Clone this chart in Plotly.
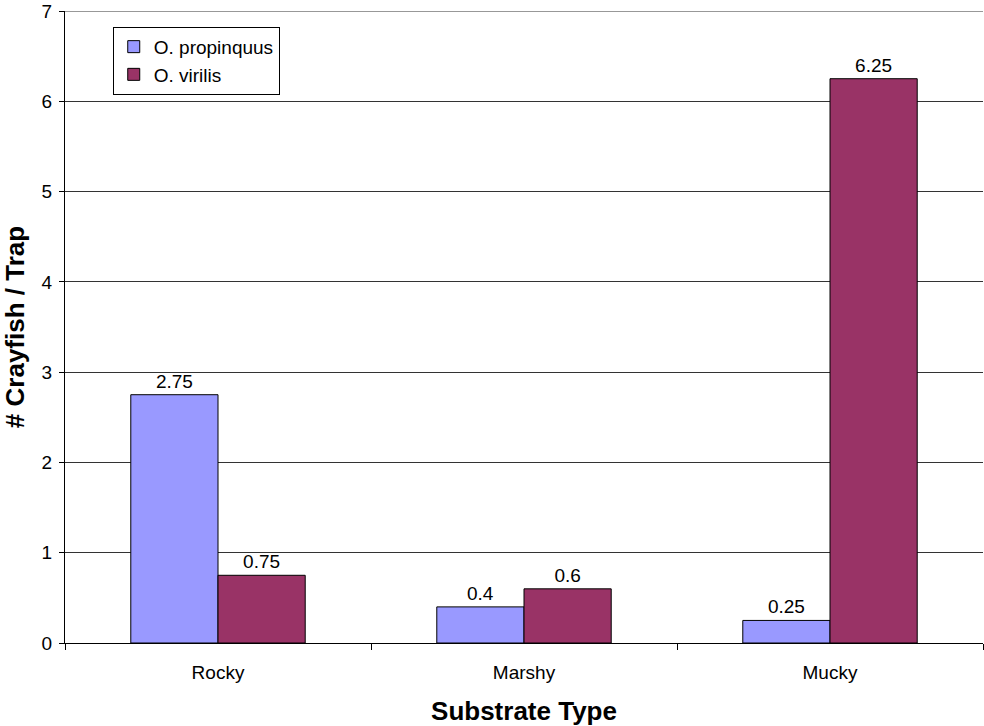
import plotly.graph_objects as go

categories = ["Rocky", "Marshy", "Mucky"]
propinquus = [2.75, 0.4, 0.25]
virilis = [0.75, 0.6, 6.25]
series_names = ["O. propinquus", "O. virilis"]
y_max = 7

fig = go.Figure()
for name, vals, col in [(series_names[0], propinquus, "#9999FF"), (series_names[1], virilis, "#993366")]:
    fig.add_trace(go.Bar(
        x=categories, y=vals, name=name,
        marker=dict(color=col, line=dict(color="#000000", width=1)),
        text=[f"{v:g}" for v in vals], textposition="outside",
        textfont=dict(size=19, color="#000000"), cliponaxis=False,
    ))

# top gridline (plotly drops the gridline at the plot edge)
fig.add_shape(type="line", xref="paper", yref="y", x0=0, x1=1, y0=y_max, y1=y_max,
              line=dict(color="#333333", width=1), layer="below")

fig.update_layout(
    width=984, height=726,
    margin=dict(l=65, r=1, t=11, b=83, autoexpand=False),
    paper_bgcolor="white", plot_bgcolor="white",
    font=dict(family="Liberation Sans, Arial, sans-serif", size=19, color="#000000"),
    barmode="group", bargap=0.43, bargroupgap=0,
    showlegend=True,
    legend=dict(x=0.052, y=0.975, xanchor="left", yanchor="top",
                bordercolor="#000000", borderwidth=1, bgcolor="white",
                font=dict(size=19), tracegroupgap=0, itemwidth=30),
    xaxis=dict(
        title=dict(text="<b>Substrate Type</b>", font=dict(size=26), standoff=20),
        showline=True, linecolor="#000000", linewidth=1,
        ticks="outside", tickson="boundaries", ticklen=6, tickcolor="#000000",
        ticklabelstandoff=12,
        showgrid=False, automargin=False,
    ),
    yaxis=dict(
        title=dict(text="<b># Crayfish / Trap</b>", font=dict(size=26), standoff=12),
        range=[0, y_max], dtick=1,
        showline=True, linecolor="#000000", linewidth=1,
        ticks="outside", ticklen=5, tickcolor="#000000",
        ticklabelstandoff=3, ticklabeloverflow="allow",
        showgrid=True, gridcolor="#333333", gridwidth=1,
        zeroline=False, automargin=False,
    ),
)

fig.write_html("out.html", config={"displayModeBar": False},
               post_script="document.body.style.margin='0px';document.body.style.overflow='hidden';")
